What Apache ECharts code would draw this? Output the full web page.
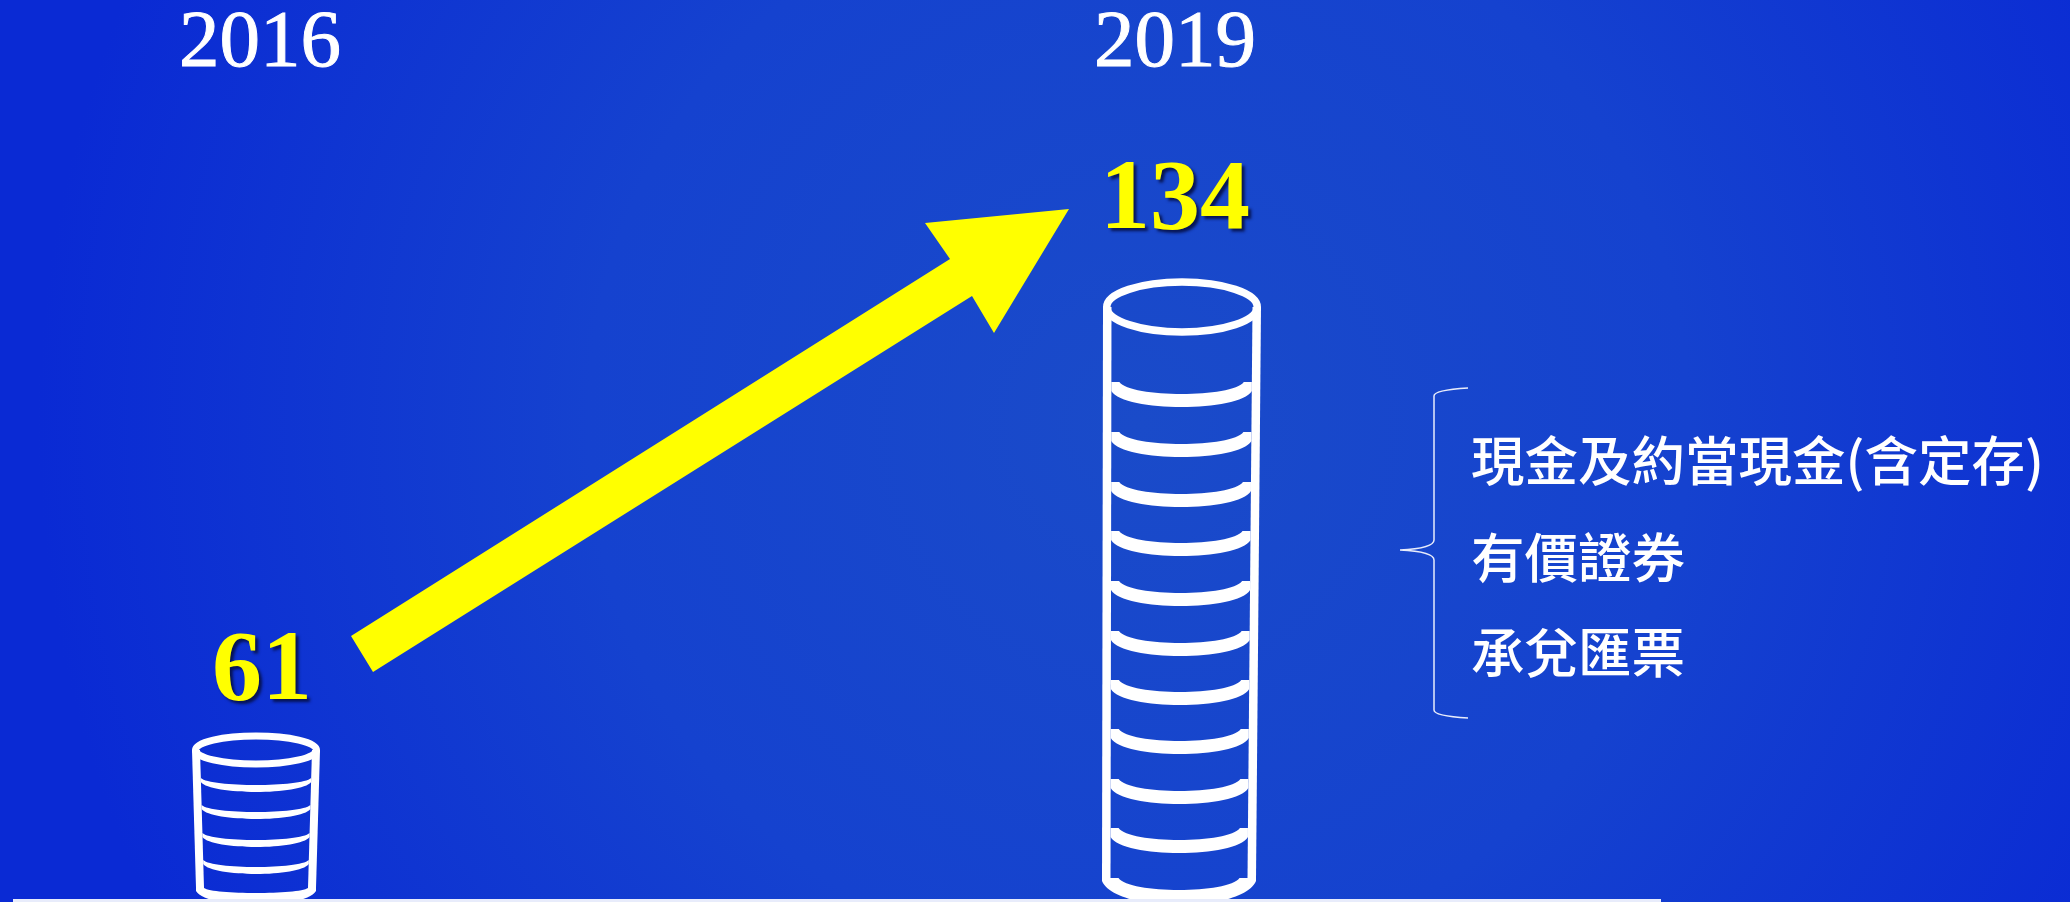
<!DOCTYPE html>
<html><head><meta charset="utf-8">
<style>html,body{margin:0;padding:0;background:#0b2cd2}#c{width:2070px;height:902px}</style>
<script src="https://cdn.jsdelivr.net/npm/echarts@6/dist/echarts.min.js"></script>
</head><body><div id="c"></div>
<script>
// ---- data ----
const categories = ['2016', '2019'];
const values = [61, 134];
const stackTops = [152, 595];
const rings2016 = [124, 97, 69, 42, 14];
const rings2019 = [520, 470, 420, 371, 321, 271, 222, 173, 123, 74, 24];
const assetLines = ['現金及約當現金(含定存)', '有價證券', '承兌匯票'];

// ---- drawing geometry ----
const ringLevels = [rings2016, rings2019];
const looks = [
  {tl:-68,tr:60,bl:-64,br:56,sw:8,stroke:7,ry:14,stub:0,sagU:7,thick:7,lowStart:4,baseSag:5,baseLow:14,labelUp:77,labelDx:2},
  {tl:-72,tr:86,bl:-73,br:81,sw:8.5,stroke:7.5,ry:25,stub:8,sagU:12,thick:13,lowStart:9,baseSag:12,baseLow:24,labelUp:105,labelDx:0}
];
const numFont = '"Liberation Serif", serif';
const cjkFont = '"Noto Sans CJK TC", sans-serif';

function curve(x0, y0, x1, y1, sag) {
  const w = x1 - x0, k = sag * 4 / 3;
  return `C ${x0 + w * 0.09} ${y0 + k} ${x1 - w * 0.09} ${y1 + k} ${x1} ${y1} `;
}
function renderStack(params, api) {
  const i = api.value(0);
  const p = api.coord([i, api.value(1)]);
  const g = looks[i], cx = p[0], topY = p[1];
  const levels = ringLevels[i];
  const baseY = api.coord([i, levels[levels.length - 1]])[1];
  const span = baseY - topY;
  const leftAt = y => cx + g.tl + (g.bl - g.tl) * (y - topY) / span;
  const rightAt = y => cx + g.tr + (g.br - g.tr) * (y - topY) / span;
  const children = [];
  const white = {fill: '#fff'};
  // side walls
  children.push({type:'polygon', shape:{points:[[leftAt(topY),topY],[leftAt(topY)+g.sw,topY],[leftAt(baseY)+g.sw,baseY],[leftAt(baseY),baseY]]}, style:white});
  children.push({type:'polygon', shape:{points:[[rightAt(topY)-g.sw,topY],[rightAt(topY),topY],[rightAt(baseY),baseY],[rightAt(baseY)-g.sw,baseY]]}, style:white});
  // top rim
  children.push({type:'ellipse', shape:{cx:(leftAt(topY)+rightAt(topY))/2, cy:topY,
    rx:(rightAt(topY)-leftAt(topY)-g.stroke)/2, ry:g.ry}, style:{fill:'none', stroke:'#fff', lineWidth:g.stroke}});
  // coin edges
  levels.forEach((lv, n) => {
    const y = api.coord([i, lv])[1];
    const isBase = n === levels.length - 1;
    const lo = leftAt(y), ro = rightAt(y);
    const li = lo + g.sw, ri = ro - g.sw;
    let d;
    if (isBase) {
      d = `M ${lo} ${y} L ${li + g.stub} ${y} ` + curve(li + g.stub, y, ri - g.stub, y, g.baseSag) +
          `L ${ro} ${y} L ${ro} ${y + 3} ` + curve(ro, y + 3, lo, y + 3, g.baseLow) + 'Z';
    } else {
      const ls = y + g.lowStart, sagL = g.sagU + g.thick - g.lowStart;
      d = `M ${li} ${y} L ${li + g.stub} ${y} ` + curve(li + g.stub, y, ri - g.stub, y, g.sagU) +
          `L ${ri} ${y} L ${ri} ${ls} ` + curve(ri, ls, li, ls, sagL) + 'Z';
    }
    children.push({type:'path', shape:{pathData:d}, style:white});
  });
  // value label
  children.push({type:'text', x: cx + g.labelDx, y: topY - g.labelUp, style:{
    text: String(values[i]), fill:'#ffff00', font:`bold 100px ${numFont}`, align:'center', verticalAlign:'middle',
    textShadowColor:'rgba(5,15,70,0.9)', textShadowBlur:3, textShadowOffsetX:3, textShadowOffsetY:3}});
  return {type:'group', children};
}
function renderBrace() {
  return {type:'path', shape:{pathData:'M 1468 388 C 1450 389 1434 391 1434 396 L 1434 540 C 1434 546 1420 549 1400 550 C 1420 551 1434 554 1434 560 L 1434 710 C 1434 715 1450 717 1468 718'},
    style:{fill:'none', stroke:'#e8ecfb', lineWidth:1.5}};
}

const chart = echarts.init(document.getElementById('c'), null, {renderer:'canvas', width:2070, height:902});
chart.setOption({
  animation:false,
  backgroundColor:{type:'radial', x:0.55, y:0.47, r:1.22, colorStops:[
    {offset:0, color:'#1a4bc9'}, {offset:0.5, color:'#1542cf'}, {offset:1, color:'#0a2ad4'}]},
  grid:{left:260, right:895, top:0, bottom:0, outerBoundsMode:'none'},
  xAxis:{type:'category', data:categories, position:'top', boundaryGap:false,
    axisLine:{show:false}, axisTick:{show:false}, splitLine:{show:false},
    axisLabel:{color:'#fff', fontFamily:numFont, fontSize:81, margin:-85, interval:0, hideOverlap:false,
      textBorderColor:'#fff', textBorderWidth:1,
      alignMinLabel:'center', alignMaxLabel:'center'}},
  yAxis:{type:'value', min:0, max:902, show:false},
  series:[
    {type:'custom', coordinateSystem:'cartesian2d', clip:false, renderItem:renderStack,
      encode:{x:0,y:1}, data:stackTops.map((v,i)=>[i,v])},
    {type:'custom', coordinateSystem:'none', renderItem:renderBrace, data:[0], silent:true}
  ],
  graphic:[
    {type:'polygon', z:5, shape:{points:[[351,636],[950,259],[925,223],[1069,209],[994,333],[972,296],[373,672]]}, style:{fill:'#ffff00'}},
    {type:'rect', z:6, shape:{x:13,y:899,width:1648,height:3}, style:{fill:'#e8ecfb'}},
    ...assetLines.map((t,k)=>({type:'text', z:5, x:1471, y:[461,558,653][k], style:{
      text:t, fill:'#fff', font:`500 53.5px ${cjkFont}`, align:'left', verticalAlign:'middle'}}))
  ]
});
</script></body></html>
